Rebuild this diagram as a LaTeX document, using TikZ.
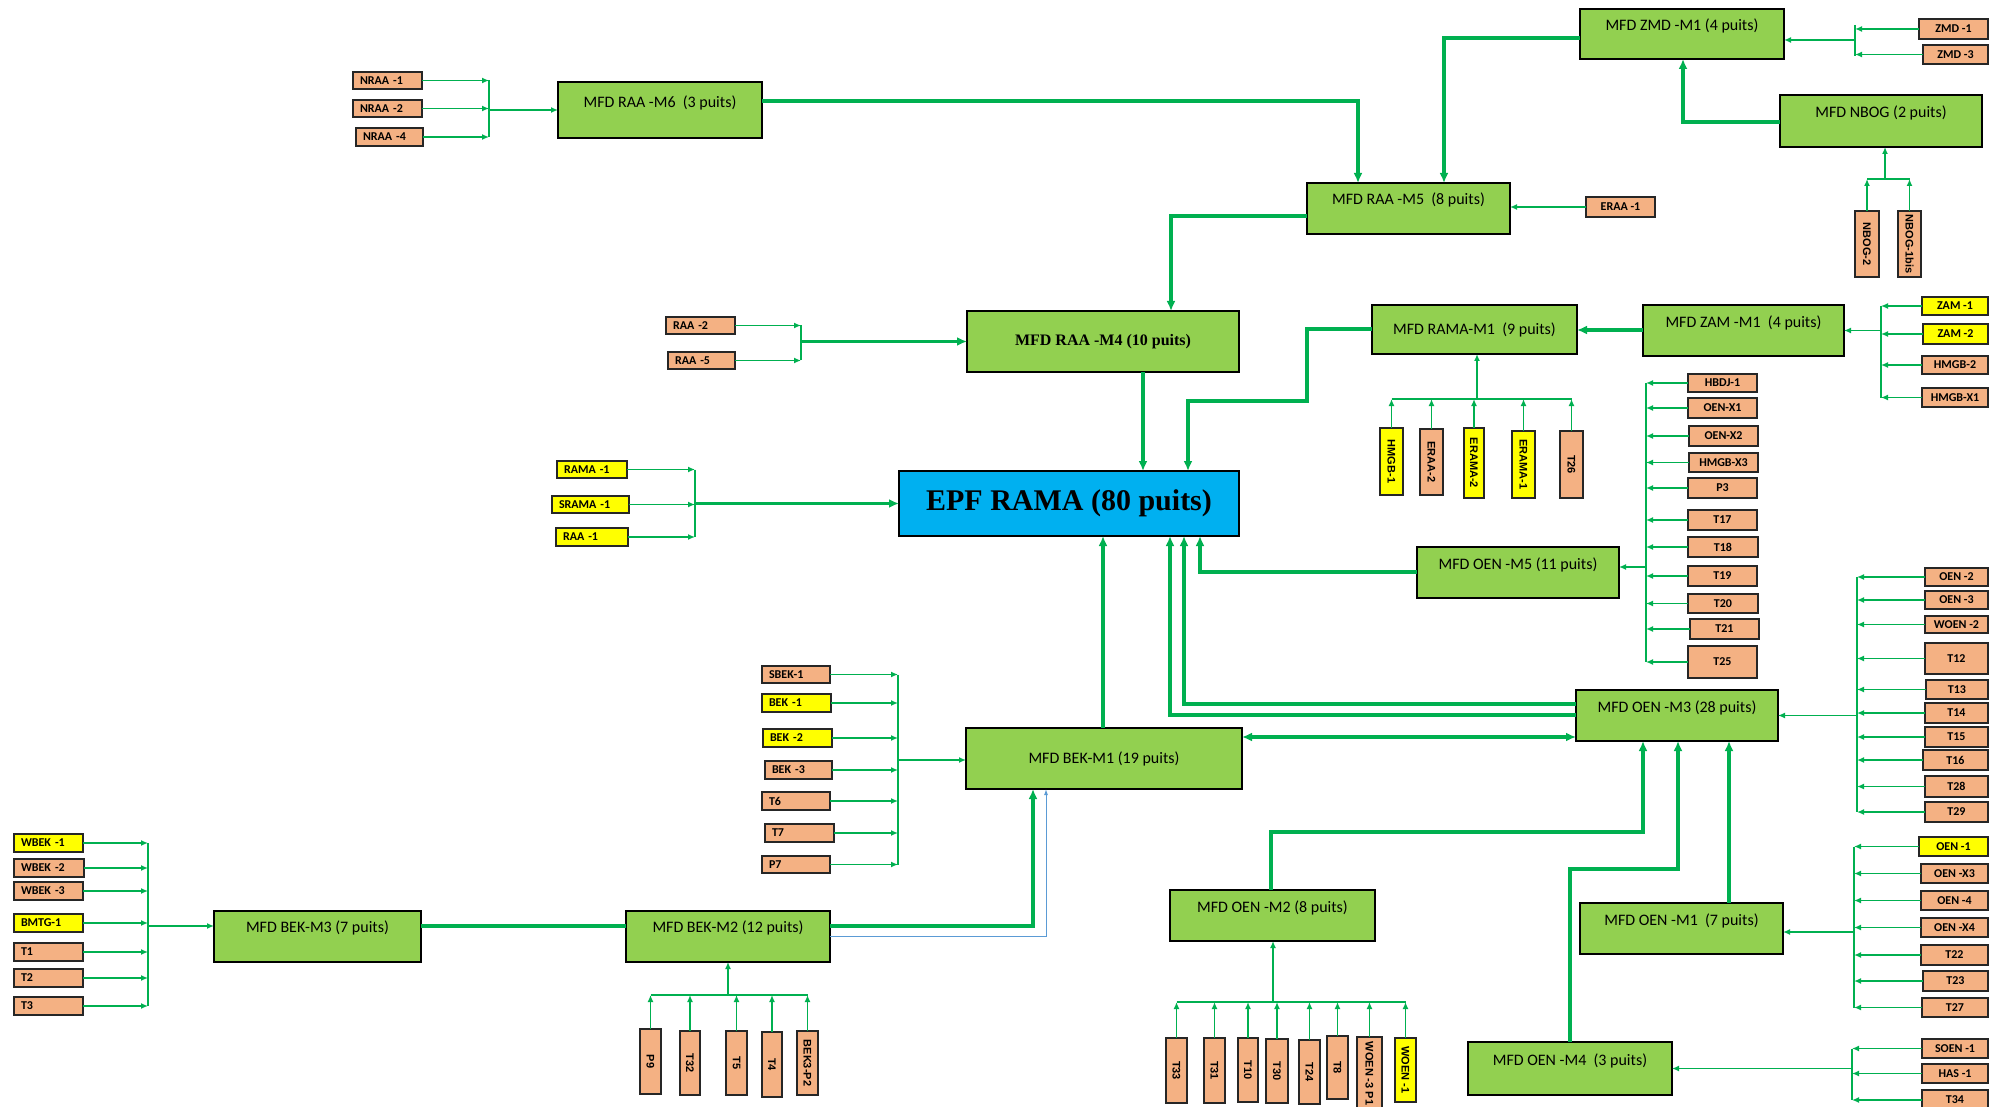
\documentclass[tikz,border=0pt]{standalone}
\usepackage{fontspec}
\setmainfont{Carlito}
\newfontfamily\serifface{Liberation Serif}
\newfontfamily\arialface{Liberation Sans}
\usetikzlibrary{arrows.meta}

\definecolor{lgreen}{HTML}{00B050}
\definecolor{modgreen}{HTML}{92D050}
\definecolor{tagorange}{HTML}{F4B183}
\definecolor{tagyellow}{HTML}{FFFF00}
\definecolor{epfblue}{HTML}{00B0F0}
\definecolor{linkblue}{HTML}{5B9BD5}

\newcommand\modfont{\fontsize{16}{19}\selectfont}
\newcommand\tagfont{\bfseries\fontsize{12}{14}\selectfont}
\newcommand\vtagfont{\arialface\bfseries\fontsize{11}{13}\selectfont}

% module box, label centred
\newcommand\modbox[7][]{%
  \pgfmathsetmacro\bxw{#5-#3}\pgfmathsetmacro\bxh{#6-#4}%
  \node[modnode,#1,minimum width=\bxw pt,minimum height=\bxh pt,anchor=north west] (#2) at (#3,#4) {#7};}
% module box, label set at a given distance below the top edge
\newcommand\modboxu[8][]{%
  \pgfmathsetmacro\bxw{#5-#3}\pgfmathsetmacro\bxh{#6-#4}%
  \node[modnode,#1,minimum width=\bxw pt,minimum height=\bxh pt,anchor=north west,
        label={[anchor=center,font=\modfont,yshift=-#7pt]north:{#8}}] (#2) at (#3,#4) {};}
% well tag, centred text
\newcommand\tagc[7][]{%
  \pgfmathsetmacro\bxw{#5-#3}\pgfmathsetmacro\bxh{#6-#4}%
  \node[tagnode,#1,minimum width=\bxw pt,minimum height=\bxh pt,anchor=north west] (#2) at (#3,#4) {#7};}
% well tag, left-aligned text
\newcommand\tagl[7][]{%
  \pgfmathsetmacro\bxw{#5-#3-14}\pgfmathsetmacro\bxh{#6-#4}%
  \node[tagnode,#1,text width=\bxw pt,align=left,inner xsep=7pt,minimum height=\bxh pt,anchor=north west] (#2) at (#3,#4) {#7};}
% upright well tag, text running downwards
\newcommand\vtag[7][]{%
  \pgfmathsetmacro\bxw{#6-#4}\pgfmathsetmacro\bxh{#5-#3}%
  \node[tagnode,font=\vtagfont,#1,rotate=-90,minimum width=\bxw pt,minimum height=\bxh pt] (#2) at ({(#3+#5)/2},{(#4+#6)/2}) {#7};}

\tikzset{
  modnode/.style={draw=black,line width=1.8pt,fill=modgreen,inner sep=2pt,outer sep=0pt,font=\modfont},
  tagnode/.style={draw=black!85,line width=1.2pt,fill=tagorange,inner sep=1pt,outer sep=0pt,font=\tagfont},
  ytag/.style={fill=tagyellow},
  mainln/.style={draw=lgreen,line width=3.2pt},
  feedln/.style={draw=lgreen,line width=1.8pt},
  busln/.style={draw=lgreen,line width=1.6pt},
  blueln/.style={draw=linkblue,line width=1pt,-{Latex[length=6pt,width=4pt]}},
  tipM/.style={-{Latex[length=10pt,width=9pt]}},
  tipS/.style={-{Latex[length=7pt,width=6pt]}},
  tipMM/.style={{Latex[length=10pt,width=9pt]}-{Latex[length=10pt,width=9pt]}},
}

\begin{document}
\begin{tikzpicture}[x=1pt,y=-1pt]
\fill[white] (0,0) rectangle (1990,1107);
\useasboundingbox (0,0) rectangle (1990,1107);

% ---------------- modules ----------------
\modbox[fill=epfblue,line width=2.5pt,font=\serifface\bfseries\fontsize{30}{34}\selectfont]{epf}{899}{471}{1239}{536}{EPF RAMA (80 puits)}
\modbox[font=\serifface\bfseries\fontsize{16}{19}\selectfont]{m4}{967}{311}{1239}{372}{MFD RAA -M4 (10 puits)}
\modboxu{m6}{558}{82}{762}{138}{21}{MFD RAA -M6 \ (3 puits)}
\modboxu{zmd}{1580}{9}{1784}{59}{17}{MFD ZMD -M1 (4 puits)}
\modboxu{m5}{1307}{183}{1510}{234}{17}{MFD RAA -M5 \ (8 puits)}
\modboxu{nbog}{1780}{95}{1982}{147}{18}{MFD NBOG (2 puits)}
\modbox{rama}{1372}{305}{1577}{354}{MFD RAMA-M1 \ (9 puits)}
\modboxu{zam}{1643}{305}{1844}{356}{18}{MFD ZAM -M1 \ (4 puits)}
\modboxu{oen5}{1417}{547}{1619}{598}{18}{MFD OEN -M5 (11 puits)}
\modboxu{oen3}{1576}{690}{1778}{741}{18}{MFD OEN -M3 (28 puits)}
\modbox{bek1}{966}{728}{1242}{789}{MFD BEK-M1 (19 puits)}
\modboxu{bek3}{214}{911}{421}{962}{17}{MFD BEK-M3 (7 puits)}
\modboxu{bek2}{626}{911}{830}{962}{17}{MFD BEK-M2 (12 puits)}
\modboxu{oen2}{1170}{890}{1375}{941}{18}{MFD OEN -M2 (8 puits)}
\modboxu{oen1}{1580}{903}{1783}{954}{18}{MFD OEN -M1 \ (7 puits)}
\modboxu{oen4}{1468}{1042}{1672}{1095}{19}{MFD OEN -M4 \ (3 puits)}

% ---------------- well tags ----------------
\tagl{nraa1}{353}{72}{422}{89}{NRAA -1}
\tagl{nraa2}{353}{100}{422}{117}{NRAA -2}
\tagl{nraa4}{356}{128}{423}{146}{NRAA -4}
\tagc{zmd1}{1919}{19}{1988}{39}{ZMD -1}
\tagc{zmd3}{1923}{45}{1988}{64}{ZMD -3}
\tagc{eraa1}{1586}{197}{1655}{217}{ERAA -1}
\vtag{nbog2}{1855}{211}{1879}{277}{NBOG-2}
\vtag{nbog1b}{1898}{211}{1921}{277}{NBOG-1bis}
\tagl{raa2}{666}{317}{735}{334}{RAA -2}
\tagl{raa5}{668}{352}{735}{369}{RAA -5}
\tagc[ytag]{zam1}{1922}{297}{1988}{315}{ZAM -1}
\tagc[ytag]{zam2}{1923}{324}{1988}{344}{ZAM -2}
\tagc{hmgb2}{1922}{356}{1988}{374}{HMGB-2}
\tagc{hmgbx1}{1922}{388}{1988}{407}{HMGB-X1}
\vtag[ytag]{hmgb1}{1380}{428}{1403}{495}{HMGB-1}
\vtag{eraa2}{1420}{429}{1443}{495}{ERAA-2}
\vtag[ytag]{erama2}{1464}{428}{1484}{498}{ERAMA-2}
\vtag[ytag]{erama1}{1512}{431}{1535}{498}{ERAMA-1}
\vtag{t26}{1560}{431}{1583}{498}{T26}
\tagl[ytag]{rama1}{557}{461}{627}{478}{RAMA -1}
\tagl[ytag]{srama1}{552}{496}{629}{513}{SRAMA -1}
\tagl[ytag]{raa1}{556}{528}{628}{546}{RAA -1}
\tagc{hbdj1}{1688}{374}{1757}{392}{HBDJ-1}
\tagc{oenx1}{1688}{398}{1757}{418}{OEN-X1}
\tagc{oenx2}{1689}{426}{1758}{446}{OEN-X2}
\tagc{hmgbx3}{1689}{453}{1758}{472}{HMGB-X3}
\tagc{p3}{1688}{478}{1757}{498}{P3}
\tagc{t17}{1688}{510}{1757}{530}{T17}
\tagc{t18}{1688}{537}{1758}{557}{T18}
\tagc{t19}{1688}{566}{1757}{586}{T19}
\tagc{t20}{1688}{594}{1758}{613}{T20}
\tagc{t21}{1690}{619}{1759}{639}{T21}
\tagc{t25}{1688}{646}{1757}{678}{T25}
\tagc{oen2t}{1925}{568}{1988}{586}{OEN -2}
\tagc{oen3t}{1925}{591}{1988}{609}{OEN -3}
\tagc{woen2}{1925}{616}{1988}{633}{WOEN -2}
\tagc{t12}{1925}{643}{1988}{674}{T12}
\tagc{t13}{1926}{680}{1988}{699}{T13}
\tagc{t14}{1925}{703}{1988}{723}{T14}
\tagc{t15}{1925}{727}{1988}{747}{T15}
\tagc{t16}{1923}{750}{1988}{770}{T16}
\tagc{t28}{1925}{776}{1988}{797}{T28}
\tagc{t29}{1925}{802}{1988}{822}{T29}
\tagc[ytag]{oen1t}{1919}{837}{1988}{856}{OEN -1}
\tagc{oenx3}{1921}{864}{1988}{883}{OEN -X3}
\tagc{oen4t}{1921}{891}{1988}{910}{OEN -4}
\tagc{oenx4}{1921}{918}{1988}{937}{OEN -X4}
\tagc{t22}{1921}{945}{1988}{965}{T22}
\tagc{t23}{1923}{971}{1988}{991}{T23}
\tagc{t27}{1922}{998}{1988}{1017}{T27}
\tagc{soen1}{1922}{1039}{1988}{1058}{SOEN -1}
\tagc{has1}{1922}{1064}{1988}{1083}{HAS -1}
\tagc{t34}{1922}{1090}{1988}{1110}{T34}
\tagl[ytag]{wbek1}{14}{834}{83}{852}{WBEK -1}
\tagl{wbek2}{14}{859}{84}{877}{WBEK -2}
\tagl{wbek3}{14}{882}{83}{900}{WBEK -3}
\tagl[ytag]{bmtg1}{14}{914}{83}{932}{BMTG-1}
\tagl{t1}{14}{943}{83}{961}{T1}
\tagl{t2}{14}{969}{83}{987}{T2}
\tagl{t3}{14}{997}{83}{1015}{T3}
\tagl{sbek1}{762}{666}{830}{683}{SBEK-1}
\tagl[ytag]{bek1t}{762}{694}{831}{712}{BEK -1}
\tagl[ytag]{bek2t}{763}{729}{832}{747}{BEK -2}
\tagl{bek3t}{765}{761}{832}{779}{BEK -3}
\tagl{t6}{762}{792}{830}{810}{T6}
\tagl{t7}{765}{824}{834}{842}{T7}
\tagl{p7}{762}{856}{830}{873}{P7}
\vtag{p9}{640}{1029}{661}{1094}{P9}
\vtag{t32}{680}{1031}{700}{1095}{T32}
\vtag{t5}{726}{1031}{747}{1095}{T5}
\vtag{t4}{762}{1032}{782}{1097}{T4}
\vtag{bek3p2}{797}{1031}{818}{1095}{BEK3-P2}
\vtag{t33}{1166}{1038}{1187}{1103}{T33}
\vtag{t31}{1204}{1038}{1225}{1103}{T31}
\vtag{t10}{1238}{1038}{1258}{1102}{T10}
\vtag{t30}{1266}{1039}{1288}{1103}{T30}
\vtag{t24}{1299}{1040}{1320}{1104}{T24}
\vtag{t8}{1327}{1036}{1348}{1099}{T8}
\vtag{woen3}{1357}{1037}{1382}{1110}{WOEN -3 P1}
\vtag[ytag]{woen1}{1395}{1038}{1416}{1102}{WOEN -1}

% ---------------- feeders and collectors ----------------
% NRAA wells -> RAA-M6
\foreach \t in {nraa1,nraa2,nraa4} \draw[feedln,tipS] (\t.east) -- (\t.east -| 489,0);
\draw[busln] (nraa1.east -| 489,0) -- (nraa4.east -| 489,0);
\draw[feedln,tipS] (m6.west -| 489,0) -- (m6.west);
% ZMD wells -> ZMD-M1
\foreach \t in {zmd1,zmd3} \draw[feedln,tipS] (\t.west) -- (\t.west -| 1855,0);
\draw[busln] (1855,25) -- (1855,56);
\draw[feedln,tipS] (1855,40) -- (zmd.east |- 0,40);
% NBOG wells -> NBOG
\foreach \t in {nbog2,nbog1b} \draw[feedln,tipS] (\t.west) -- (\t.west |- 0,179);
\draw[busln] (nbog2.west |- 0,179) -- (nbog1b.west |- 0,179);
\draw[feedln,tipS] (1885,179) -- (1885,0 |- nbog.south);
% ERAA-1 -> RAA-M5
\draw[feedln,tipS] (eraa1.west) -- (m5.east |- eraa1.west);
% RAA wells -> RAA-M4
\foreach \t in {raa2,raa5} \draw[feedln,tipS] (\t.east) -- (\t.east -| 801,0);
\draw[busln] (raa2.east -| 801,0) -- (raa5.east -| 801,0);
\draw[mainln,tipM] (m4.west -| 801,0) -- (m4.west);
% RAMA-M1 wells
\foreach \t in {hmgb1,eraa2,erama2,erama1,t26} \draw[feedln,tipS] (\t.west) -- (\t.west |- 0,399);
\draw[busln] (hmgb1.west |- 0,399) -- (t26.west |- 0,399);
\draw[feedln,tipS] (1477,399) -- (1477,0 |- rama.south);
% ZAM-M1 wells
\foreach \t in {zam1,zam2,hmgb2,hmgbx1} \draw[feedln,tipS] (\t.west) -- (\t.west -| 1881,0);
\draw[busln] (zam1.west -| 1881,0) -- (hmgbx1.west -| 1881,0);
\draw[feedln,tipS] (zam.east -| 1881,0) -- (zam.east);
% wells straight to EPF
\foreach \t in {rama1,srama1,raa1} \draw[feedln,tipS] (\t.east) -- (\t.east -| 695,0);
\draw[busln] (rama1.east -| 695,0) -- (raa1.east -| 695,0);
\draw[mainln,tipM] (epf.west -| 695,0) -- (epf.west);
% OEN-M5 wells
\foreach \t in {hbdj1,oenx1,oenx2,hmgbx3,p3,t17,t18,t19,t20,t21,t25} \draw[feedln,tipS] (\t.west) -- (\t.west -| 1646,0);
\draw[busln] (hbdj1.west -| 1646,0) -- (t25.west -| 1646,0);
\draw[feedln,tipS] (1646,567) -- (oen5.east |- 0,567);
% OEN-M3 wells
\foreach \t in {oen2t,oen3t,woen2,t12,t13,t14,t15,t16,t28,t29} \draw[feedln,tipS] (\t.west) -- (\t.west -| 1857,0);
\draw[busln] (oen2t.west -| 1857,0) -- (t29.west -| 1857,0);
\draw[feedln,tipS] (oen3.east -| 1857,0) -- (oen3.east);
% OEN-M1 wells
\foreach \t in {oen1t,oenx3,oen4t,oenx4,t22,t23,t27} \draw[feedln,tipS] (\t.west) -- (\t.west -| 1854,0);
\draw[busln] (oen1t.west -| 1854,0) -- (t27.west -| 1854,0);
\draw[feedln,tipS] (1854,932) -- (oen1.east |- 0,932);
% OEN-M4 wells
\foreach \t in {soen1,has1,t34} \draw[feedln,tipS] (\t.west) -- (\t.west -| 1852,0);
\draw[busln] (soen1.west -| 1852,0) -- (t34.west -| 1852,0);
\draw[feedln,tipS] (oen4.east -| 1852,0) -- (oen4.east);
% OEN-M2 wells
\foreach \t in {t33,t31,t10,t30,t24,t8,woen3,woen1} \draw[feedln,tipS] (\t.west) -- (\t.west |- 0,1002);
\draw[busln] (t33.west |- 0,1002) -- (woen1.west |- 0,1002);
\draw[feedln,tipS] (1273,1002) -- (1273,0 |- oen2.south);
% BEK-M2 wells
\foreach \t in {p9,t32,t5,t4,bek3p2} \draw[feedln,tipS] (\t.west) -- (\t.west |- 0,995);
\draw[busln] (p9.west |- 0,995) -- (bek3p2.west |- 0,995);
\draw[feedln,tipS] (728,995) -- (728,0 |- bek2.south);
% BEK-M3 wells
\foreach \t in {wbek1,wbek2,wbek3,bmtg1,t1,t2,t3} \draw[feedln,tipS] (\t.east) -- (\t.east -| 148,0);
\draw[busln] (wbek1.east -| 148,0) -- (t3.east -| 148,0);
\draw[feedln,tipS] (148,926) -- (bek3.west |- 0,926);
% BEK-M1 wells
\foreach \t in {sbek1,bek1t,bek2t,bek3t,t6,t7,p7} \draw[feedln,tipS] (\t.east) -- (\t.east -| 898,0);
\draw[busln] (sbek1.east -| 898,0) -- (p7.east -| 898,0);
\draw[feedln,tipS] (898,760) -- (bek1.west |- 0,760);

% ---------------- trunk lines between modules ----------------
\draw[mainln,tipM] (m6.east |- 0,101) -| (1358,0 |- m5.north);
\draw[mainln,tipM] (zmd.west |- 0,38) -| (1444,0 |- m5.north);
\draw[mainln,tipM] (nbog.west |- 0,122) -| (1683,0 |- zmd.south);
\draw[mainln,tipM] (m5.west |- 0,216) -| (1171,0 |- m4.north);
\draw[mainln,tipM] (1143,0 |- m4.south) -- (1143,0 |- epf.north);
\draw[mainln,tipM] (zam.west |- 0,330) -- (rama.east |- 0,330);
\draw[mainln,tipM] (rama.west |- 0,329) -- (1307,329) -- (1307,401) -| (1188,0 |- epf.north);
\draw[mainln,tipM] (oen5.west |- 0,572) -| (1200,0 |- epf.south);
\draw[mainln,tipM] (oen3.west |- 0,704) -| (1184,0 |- epf.south);
\draw[mainln,tipM] (oen3.west |- 0,715) -| (1170,0 |- epf.south);
\draw[mainln,tipM] (1103,0 |- bek1.north) -- (1103,0 |- epf.south);
\draw[mainln,tipMM] (bek1.east |- 0,737) -- (oen3.west |- 0,737);
\draw[mainln,tipM] (oen2.north -| 1271,0) -- (1271,832) -| (1643,0 |- oen3.south);
\draw[mainln,tipM] (oen4.north -| 1570,0) -- (1570,869) -| (1678,0 |- oen3.south);
\draw[mainln,tipM] (oen1.north -| 1729,0) -- (1729,0 |- oen3.south);
\draw[mainln] (bek3.east |- 0,926) -- (bek2.west |- 0,926);
\draw[mainln,tipM] (bek2.east |- 0,926) -| (1033,0 |- bek1.south);
\draw[blueln] (bek2.east |- 0,936) -| (1046,0 |- bek1.south);
\end{tikzpicture}
\end{document}
